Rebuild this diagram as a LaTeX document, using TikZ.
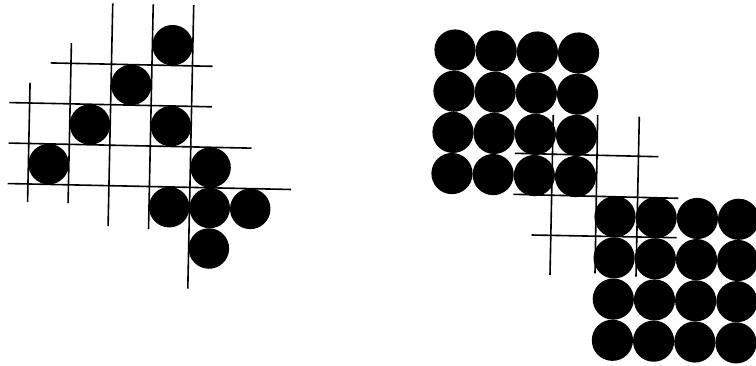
\documentclass[tikz,border=0pt]{standalone}
\begin{document}
\begin{tikzpicture}[x=1pt,y=-1pt,
  gridline/.style={black,line width=1.6pt},
  dot/.style={fill=black}]
\useasboundingbox (0,0) rectangle (756,365);
\clip (0,0) rectangle (756,365);
\fill[white] (0,0) rectangle (756,365);
% ---------- left figure ----------
\begin{scope}[shift={(30.5pt,-62.5pt)}, rotate=-1.2, x=40.5pt, y=-40.5pt]
  \foreach \c/\r in {3.5/-0.5, 2.5/0.5, 1.5/1.5, 3.5/1.5, 0.5/2.5, 4.5/2.5,
                     3.5/3.5, 4.5/3.5, 5.5/3.5, 4.5/4.5}
    \fill[dot] (\c,\r) circle[radius=0.5];
  \foreach \k/\a/\b in {0/0.5/3.45, 1/-0.5/3.45, 2/-1.5/4, 3/-1.5/4.05, 4/-1.5/5.5}
    \draw[gridline] (\k,\a) -- (\k,\b);
  \foreach \m/\a/\b in {0/0.5/4.5, 1/-0.5/4.5, 2/-0.5/5.5, 3/-0.5/6.5}
    \draw[gridline] (\a,\m) -- (\b,\m);
\end{scope}
% ---------- right figure ----------
\begin{scope}[shift={(455pt,-50pt)}, rotate=-1.4, x=41.2pt, y=-41.2pt]
  \foreach \c in {0,...,3}
    \foreach \r in {0,...,3}
      \fill[dot] (\c,\r) circle[radius=0.5];
\end{scope}
\begin{scope}[shift={(615pt,-216.7pt)}, rotate=-1.2, x=41.2pt, y=-41.2pt]
  \foreach \c in {0,...,3}
    \foreach \r in {0,...,3}
      \fill[dot] (\c,\r) circle[radius=0.5];
\end{scope}
\coordinate (v1a) at (553.3,115);   \coordinate (v1b) at (550,275);
\coordinate (v2a) at (597.7,115);   \coordinate (v2b) at (595,273.3);
\coordinate (v3a) at (639.3,116.7); \coordinate (v3b) at (636,276.7);
\coordinate (h1a) at (515,153.3);   \coordinate (h1b) at (658.3,156.7);
\coordinate (h2a) at (513.3,194.3); \coordinate (h2b) at (678.3,198.3);
\coordinate (h3a) at (531.7,235);   \coordinate (h3b) at (676.7,237.7);
\draw[gridline] (v1a) -- (v1b);
\draw[gridline] (v2a) -- (v2b);
\draw[gridline] (v3a) -- (v3b);
\draw[gridline] (h1a) -- (h1b);
\draw[gridline] (h2a) -- (h2b);
\draw[gridline] (h3a) -- (h3b);
\end{tikzpicture}
\end{document}
